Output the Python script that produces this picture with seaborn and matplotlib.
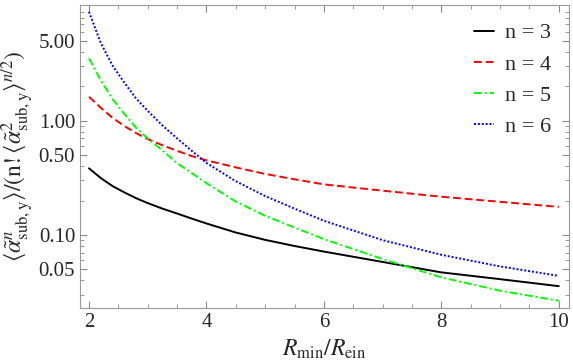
import numpy as np
import pandas as pd
import matplotlib
matplotlib.use("Agg")
import matplotlib.pyplot as plt
import seaborn as sns
from matplotlib.ticker import FixedLocator, FixedFormatter, MultipleLocator, NullFormatter

# values
r_ratio = [2, 2.2, 2.4, 2.6, 2.8, 3, 3.25, 3.5, 3.75, 4, 4.5, 5, 5.5, 6, 7, 8, 9, 10]
n3 = [0.383, 0.315, 0.268, 0.236, 0.21, 0.19, 0.17, 0.154, 0.139, 0.126,
      0.105, 0.0905, 0.080, 0.0715, 0.058, 0.047, 0.041, 0.0356]
n4 = [1.62, 1.30, 1.06, 0.90, 0.78, 0.69, 0.61, 0.545, 0.49, 0.45,
      0.39, 0.342, 0.307, 0.277, 0.244, 0.216, 0.195, 0.176]
n5 = [3.52, 2.25, 1.55, 1.15, 0.87, 0.70, 0.55, 0.425, 0.348, 0.284,
      0.196, 0.147, 0.116, 0.092, 0.0615, 0.0425, 0.0325, 0.0265]
n6 = [9.0, 4.8, 3.05, 2.16, 1.57, 1.22, 0.91, 0.70, 0.545, 0.427,
      0.295, 0.219, 0.17, 0.133, 0.090, 0.067, 0.053, 0.0438]

series_labels = ["n = 3", "n = 4", "n = 5", "n = 6"]
y_ticks = [0.05, 0.10, 0.50, 1.00, 5.00]
y_tick_labels = ["0.05", "0.10", "0.50", "1.00", "5.00"]

sns.set_style("ticks")
plt.rcParams["font.family"] = ["Liberation Serif", "DejaVu Serif"]
plt.rcParams["mathtext.fontset"] = "stix"

fig = plt.figure(figsize=(5.73, 3.63), dpi=100)
ax = fig.add_axes([0.1396, 0.152, 0.853, 0.834])

styles = [
    ("black", "-"),
    ("#ff0000", (0, (4, 2))),
    ("#00ff00", (0, (4, 1.5, 1, 1.5))),
    ("#0000ff", (0, (1, 1))),
]
for vals, lab, (col, ls) in zip([n3, n4, n5, n6], series_labels, styles):
    sns.lineplot(x=r_ratio, y=vals, ax=ax, color=col, linestyle=ls, linewidth=1.4, label=lab)

ax.set_yscale("log")
ax.set_xlim(1.847, 10.17)
ax.set_ylim(0.023, 10.29)

ax.yaxis.set_major_locator(FixedLocator(y_ticks))
ax.yaxis.set_major_formatter(FixedFormatter(y_tick_labels))
minor = [v * d for d in (0.01, 0.1, 1) for v in range(1, 10)]
minor = [m for m in minor if all(abs(m - t) > 1e-9 for t in y_ticks)]
ax.yaxis.set_minor_locator(FixedLocator(minor))
ax.yaxis.set_minor_formatter(NullFormatter())
ax.xaxis.set_major_locator(MultipleLocator(2))
ax.xaxis.set_minor_locator(MultipleLocator(0.5))

ax.tick_params(which="both", direction="in", top=True, right=True,
               labelsize=15, color="#888888")
ax.tick_params(which="major", length=5, width=0.8)
ax.tick_params(which="minor", length=3, width=0.6)
for sp in ax.spines.values():
    sp.set_color("#999999")
    sp.set_linewidth(0.8)

ax.set_xlabel(r"$R_{\rm min}/R_{\rm ein}$", fontsize=17, labelpad=4)
ax.set_ylabel(r"$\langle\tilde{\alpha}^{n}_{\rm sub,y}\rangle/(\mathrm{n}!\langle\tilde{\alpha}^{2}_{\rm sub,y}\rangle^{n/2})$",
              fontsize=17, labelpad=2)

ax.legend(loc="upper right", frameon=False, fontsize=16, handlelength=0.9,
          handletextpad=0.5, labelspacing=0.48, borderaxespad=0.4)

fig.savefig("out.png", dpi=100)
